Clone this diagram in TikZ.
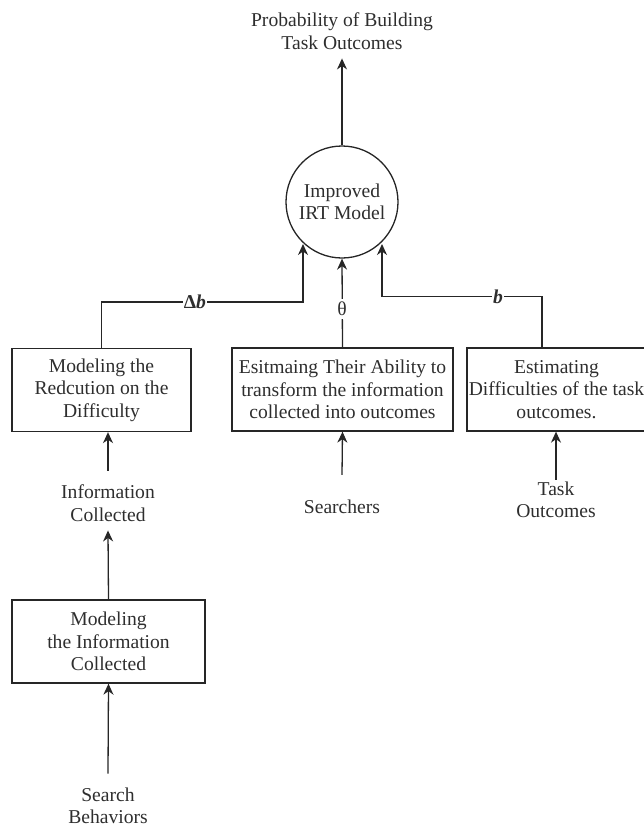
\documentclass[tikz,border=0pt]{standalone}
\usepackage{fontspec}
\setmainfont{Liberation Serif}
\usetikzlibrary{arrows.meta}
\begin{document}
\begin{tikzpicture}[x=1pt,y=-1pt,
  txt/.style={font=\fontsize{19.6}{22.5}\selectfont, text=black!82, align=center, inner sep=0pt},
  boxnode/.style={txt, draw=black!85, line width=1.3pt, minimum height=83pt},
  conn/.style={draw=black!85, line width=1.3pt},
  arr/.style={conn, -{Stealth[length=11pt,width=10pt,inset=3.5pt]}},
  lbl/.style={txt, fill=white, inner sep=1pt}]
\useasboundingbox (0,0) rectangle (644,827);
% nodes
\node[txt] (title) at (342,31) {Probability of Building\\Task Outcomes};
\node[txt, draw=black!85, line width=1.3pt, circle, minimum size=112pt] (irt) at (342,202) {Improved\\IRT Model};
\node[boxnode, minimum width=179pt] (red) at (101.5,390) {Modeling the\\Redcution on the\\Difficulty};
\node[boxnode, minimum width=221pt] (abil) at (342.5,389.5) {Esitmaing Their Ability to\\transform the information\\collected into outcomes};
\node[boxnode, minimum width=179pt] (diff) at (556.5,389.5) {Estimating\\Difficulties of the task\\outcomes.};
\node[txt] (info) at (108,503) {Information\\Collected};
\node[txt] (srch) at (342,507) {Searchers};
\node[txt] (task) at (556,500) {Task\\Outcomes};
\node[boxnode, minimum width=193pt] (minf) at (108.5,641.5) {Modeling\\the Information\\Collected};
\node[txt] (sb) at (108,806) {Search\\Behaviors};
% connectors
\draw[arr] (irt.north) -- ([yshift=-9pt]title.south);
\draw[arr] (red.north) -- (101.5,302) -- (303,302) -- (303,244);
\draw[arr] (abil.north) -- (irt.south);
\draw[arr] (diff.north -| 542,0) -- (542,296.5) -- (382,296.5) -- (382,244);
\node[lbl] (db) at (195,302) {\textbf{Δ\textit{b}}};
\node[lbl] (bb) at (498,296.5) {\textbf{\textit{b}}};
\node[lbl, inner sep=3pt] (th) at (342,309) {θ};
\draw[arr] ([yshift=14pt]info.north) -- (red.south -| info.north);
\draw[arr] (minf.north) -- ([yshift=-9pt]info.south);
\draw[arr] ([yshift=14pt]sb.north) -- (minf.south);
\draw[arr] ([yshift=25pt]srch.north) -- (abil.south);
\draw[arr] ([yshift=2pt]task.north) -- (diff.south -| task.north);
\end{tikzpicture}
\end{document}
